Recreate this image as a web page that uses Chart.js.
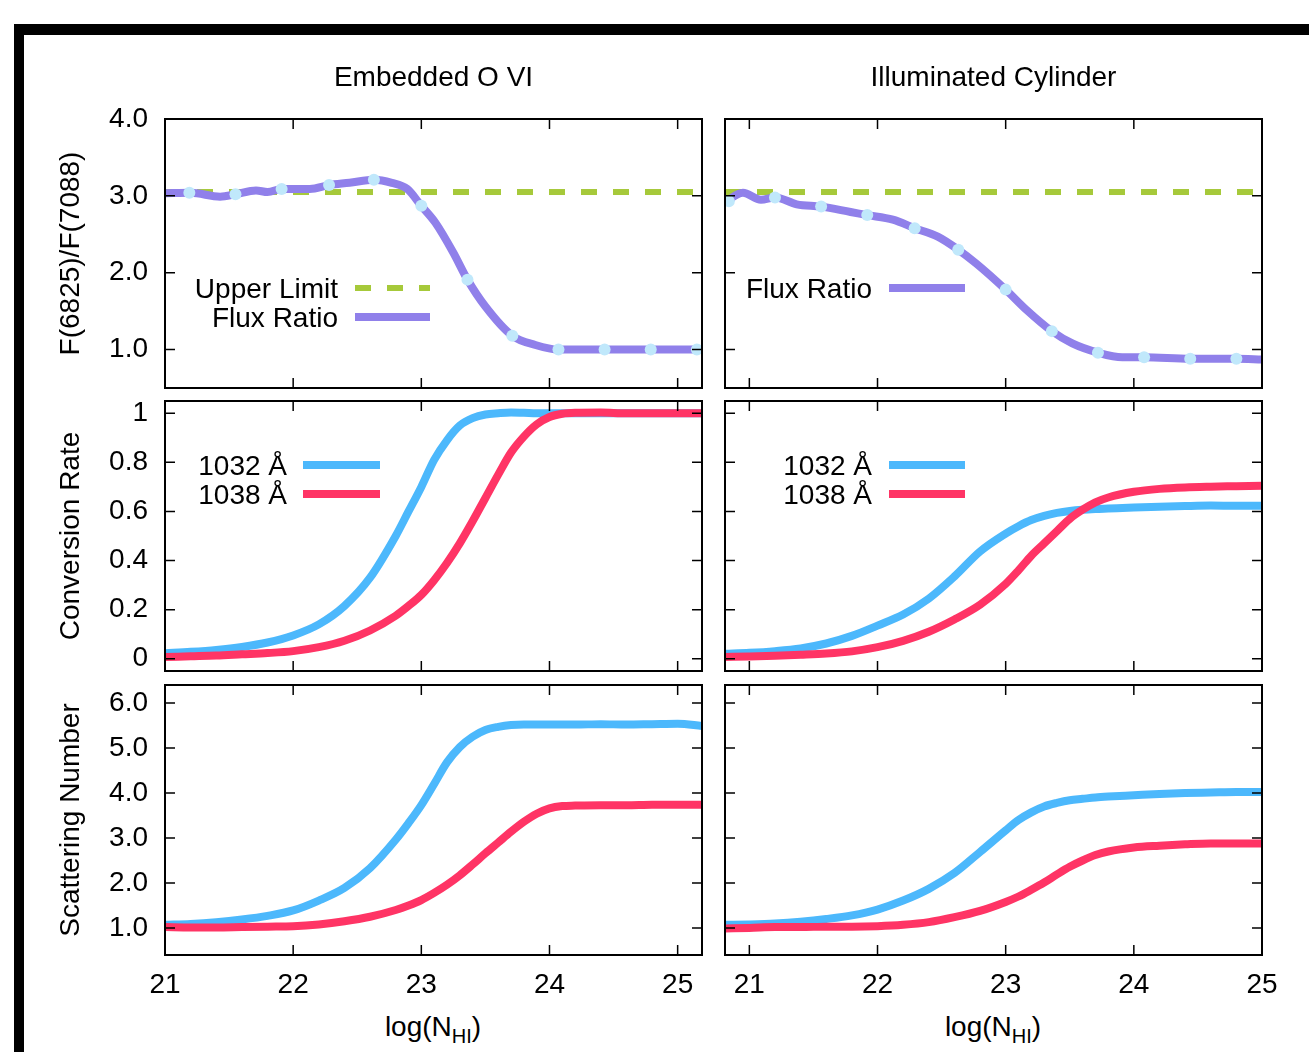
<!DOCTYPE html>
<html>
<head>
<meta charset="utf-8">
<script src="https://cdn.jsdelivr.net/npm/chart.js@4"></script>
<style>
  html, body { margin: 0; padding: 0; background: #fff; }
  body { width: 1309px; height: 1052px; position: relative; overflow: hidden; font-family: "Liberation Sans", Arial, sans-serif; }
  #frame { position: absolute; left: 14px; top: 24px; width: 1400px; height: 1100px; border-top: 11px solid #000; border-left: 10px solid #000; }
  canvas { position: absolute; }
  .xt { position: absolute; top: 1010px; width: 240px; text-align: center; font-size: 28px; line-height: 34px; color: #000; }
  .xt sub { font-size: 20px; vertical-align: -7px; line-height: 0; }
</style>
</head>
<body>
<div id="frame"></div>
<canvas id="tl" width="807" height="385" style="left:30px;top:43px"></canvas>
<canvas id="tr" width="597" height="385" style="left:695px;top:43px"></canvas>
<canvas id="ml" width="807" height="350" style="left:30px;top:361px"></canvas>
<canvas id="mr" width="597" height="350" style="left:695px;top:361px"></canvas>
<canvas id="bl" width="807" height="365" style="left:30px;top:645px"></canvas>
<canvas id="br" width="597" height="365" style="left:695px;top:645px"></canvas>
<div class="xt" style="left:313px">log(N<sub>HI</sub>)</div>
<div class="xt" style="left:873px">log(N<sub>HI</sub>)</div>
<script>
// tick labels
const xTicks = [21, 22, 23, 24, 25];
const fluxTicks = [1, 2, 3, 4];
const convTicks = [0, 0.2, 0.4, 0.6, 0.8, 1];
const scatTicks = [1, 2, 3, 4, 5, 6];

// top row: flux ratio
const upperLimit = 3.05;
const fluxEmbX = [21.0, 21.2, 21.43, 21.55, 21.71, 21.8, 21.91, 22.13, 22.28, 22.44, 22.63, 22.77, 22.89, 23.0, 23.11, 23.25, 23.36, 23.5, 23.71, 23.89, 24.07, 24.4, 24.8, 25.19];
const fluxEmbY = [3.035, 3.04, 2.99, 3.02, 3.07, 3.05, 3.09, 3.09, 3.14, 3.17, 3.21, 3.17, 3.09, 2.87, 2.65, 2.26, 1.91, 1.56, 1.18, 1.06, 1.0, 1.0, 1.0, 1.0];
const markEmbX = [21.19, 21.55, 21.91, 22.28, 22.63, 23.0, 23.36, 23.71, 24.07, 24.43, 24.79, 25.15];
const markEmbY = [3.04, 3.02, 3.09, 3.14, 3.21, 2.87, 1.91, 1.18, 1.0, 1.0, 1.0, 1.0];

const fluxCylX = [20.81, 20.95, 21.09, 21.2, 21.37, 21.56, 21.79, 21.92, 22.12, 22.29, 22.47, 22.63, 22.77, 23.0, 23.16, 23.36, 23.52, 23.72, 23.91, 24.08, 24.44, 24.8, 25.0];
const fluxCylY = [2.92, 3.04, 2.95, 2.98, 2.89, 2.86, 2.79, 2.75, 2.69, 2.58, 2.47, 2.30, 2.12, 1.78, 1.52, 1.24, 1.08, 0.96, 0.90, 0.90, 0.88, 0.88, 0.87];
const markCylX = [20.84, 21.2, 21.56, 21.92, 22.29, 22.63, 23.0, 23.36, 23.72, 24.08, 24.44, 24.8];
const markCylY = [2.93, 2.98, 2.86, 2.75, 2.58, 2.30, 1.78, 1.24, 0.96, 0.90, 0.88, 0.88];

// middle + bottom rows, embedded O VI
const embX = [21.0, 21.2, 21.4, 21.6, 21.8, 22.0, 22.2, 22.4, 22.6, 22.8, 22.9, 23.0, 23.1, 23.2, 23.3, 23.4, 23.5, 23.6, 23.7, 23.8, 23.9, 24.0, 24.1, 24.2, 24.4, 24.6, 24.8, 25.0, 25.19];
const convEmb1032 = [0.022, 0.028, 0.036, 0.048, 0.066, 0.095, 0.14, 0.215, 0.33, 0.50, 0.60, 0.70, 0.81, 0.89, 0.95, 0.98, 0.995, 1.0, 1.003, 1.002, 1.0, 1.0, 1.0, 1.0, 1.0, 1.0, 1.0, 1.0, 1.0];
const convEmb1038 = [0.007, 0.010, 0.013, 0.018, 0.023, 0.031, 0.047, 0.073, 0.115, 0.175, 0.215, 0.26, 0.32, 0.39, 0.47, 0.56, 0.655, 0.75, 0.84, 0.905, 0.955, 0.985, 0.998, 1.002, 1.003, 1.0, 1.0, 1.0, 1.0];
const scatEmb1032 = [1.07, 1.09, 1.13, 1.19, 1.27, 1.39, 1.61, 1.89, 2.33, 2.96, 3.33, 3.73, 4.20, 4.68, 5.02, 5.25, 5.40, 5.47, 5.51, 5.52, 5.52, 5.52, 5.52, 5.52, 5.53, 5.52, 5.53, 5.54, 5.49];
const scatEmb1038 = [1.02, 1.01, 1.01, 1.02, 1.03, 1.04, 1.08, 1.15, 1.25, 1.40, 1.50, 1.62, 1.78, 1.96, 2.17, 2.41, 2.66, 2.90, 3.14, 3.36, 3.54, 3.66, 3.71, 3.72, 3.73, 3.73, 3.74, 3.74, 3.74];

// middle + bottom rows, illuminated cylinder
const cylX = [20.81, 21.0, 21.2, 21.4, 21.6, 21.8, 22.0, 22.2, 22.4, 22.6, 22.8, 23.0, 23.1, 23.2, 23.3, 23.4, 23.5, 23.6, 23.7, 23.8, 24.0, 24.2, 24.4, 24.6, 24.8, 25.0];
const convCyl1032 = [0.02, 0.024, 0.031, 0.042, 0.062, 0.093, 0.135, 0.18, 0.245, 0.335, 0.437, 0.51, 0.54, 0.565, 0.582, 0.594, 0.602, 0.607, 0.61, 0.612, 0.616, 0.619, 0.622, 0.624, 0.623, 0.623];
const convCyl1038 = [0.007, 0.009, 0.012, 0.016, 0.021, 0.03, 0.047, 0.073, 0.11, 0.16, 0.22, 0.305, 0.36, 0.42, 0.47, 0.52, 0.57, 0.607, 0.637, 0.657, 0.68, 0.692, 0.698, 0.701, 0.703, 0.705];
const scatCyl1032 = [1.07, 1.08, 1.10, 1.14, 1.20, 1.28, 1.41, 1.61, 1.87, 2.22, 2.69, 3.17, 3.40, 3.57, 3.70, 3.78, 3.84, 3.87, 3.90, 3.92, 3.95, 3.98, 4.0, 4.01, 4.02, 4.02];
const scatCyl1038 = [0.99, 1.0, 1.02, 1.02, 1.03, 1.03, 1.04, 1.07, 1.13, 1.24, 1.38, 1.58, 1.70, 1.85, 2.01, 2.19, 2.36, 2.50, 2.62, 2.70, 2.79, 2.83, 2.86, 2.88, 2.88, 2.88];

const PURPLE = "#9080ea", DOT = "#c0e8fb", GREEN = "#a6c93a", BLUE = "#4cb8fc", RED = "#ff3465";

Chart.defaults.font.family = "'Liberation Sans', Arial, sans-serif";
Chart.defaults.font.size = 28;
Chart.defaults.font.lineHeight = 1.25;
Chart.defaults.color = "#000";

function pts(xs, ys) {
  return xs.map((x, i) => ({ x: x, y: ys[i] }));
}

// gnuplot style border with inward ticks on every side
const frameTicks = {
  id: "frameTicks",
  afterDatasetsDraw(chart) {
    const { ctx, chartArea: a, scales } = chart;
    ctx.save();
    ctx.strokeStyle = "#000";
    ctx.lineWidth = 1.5;
    ctx.beginPath();
    scales.x.ticks.forEach(t => {
      const px = scales.x.getPixelForValue(t.value);
      ctx.moveTo(px, a.bottom); ctx.lineTo(px, a.bottom - 10);
      ctx.moveTo(px, a.top); ctx.lineTo(px, a.top + 10);
    });
    scales.y.ticks.forEach(t => {
      const py = scales.y.getPixelForValue(t.value);
      ctx.moveTo(a.left, py); ctx.lineTo(a.left + 10, py);
      ctx.moveTo(a.right, py); ctx.lineTo(a.right - 10, py);
    });
    ctx.stroke();
    ctx.lineWidth = 2;
    ctx.strokeRect(a.left, a.top, a.right - a.left, a.bottom - a.top);
    ctx.restore();
  }
};

// key: text on the left, line sample on the right
const gnuLegend = {
  id: "gnuLegend",
  afterDatasetsDraw(chart, args, opts) {
    if (!opts.items) return;
    const { ctx, chartArea: a } = chart;
    ctx.save();
    ctx.font = "28px 'Liberation Sans', Arial, sans-serif";
    ctx.textAlign = "right";
    ctx.textBaseline = "middle";
    opts.items.forEach((it, i) => {
      const ds = chart.data.datasets[it.ds];
      const y = a.top + opts.top + i * 29;
      ctx.fillStyle = "#000";
      ctx.fillText(it.text, a.left + opts.textRight, y + 2);
      ctx.strokeStyle = ds.borderColor;
      ctx.lineWidth = ds.borderWidth;
      ctx.setLineDash(ds.borderDash || []);
      ctx.beginPath();
      ctx.moveTo(a.left + opts.lineFrom, y);
      ctx.lineTo(a.left + opts.lineTo, y);
      ctx.stroke();
    });
    ctx.restore();
  }
};

function panel(id, cfg) {
  const left = cfg.col === 0, top = cfg.row === 0, bottom = cfg.row === 2;
  const side = left ? 135 : 30;  // same width both sides, so the title centres on the plot
  return new Chart(document.getElementById(id), {
    type: "line",
    data: { datasets: cfg.datasets },
    options: {
      responsive: false,
      animation: false,
      events: [],
      layout: { padding: { left: 0, right: 0, top: top ? 0 : 40, bottom: bottom ? 0 : 40 } },
      datasets: { line: { clip: 0, pointRadius: 0, borderWidth: 8, cubicInterpolationMode: "monotone" } },
      plugins: {
        legend: { display: false },
        tooltip: { enabled: false },
        title: { display: top, text: cfg.title, color: "#000", font: { size: 28, weight: "normal" }, padding: { top: 18, bottom: 23 } },
        gnuLegend: cfg.legend || {}
      },
      scales: {
        x: {
          type: "linear",
          min: left ? 21 : 20.81,
          max: left ? 25.19 : 25,
          grid: { display: false, drawTicks: false },
          border: { display: false },
          afterBuildTicks: s => { s.ticks = xTicks.map(v => ({ value: v })); },
          ticks: { display: bottom, padding: 13, maxRotation: 0, minRotation: 0, autoSkip: false },
          afterFit: s => { s.height = bottom ? 55 : 0; }
        },
        y: {
          type: "linear",
          min: cfg.yMin,
          max: cfg.yMax,
          grid: { display: false, drawTicks: false },
          border: { display: false },
          afterBuildTicks: s => { s.ticks = cfg.ticks.map(v => ({ value: v })); },
          ticks: { display: left, padding: 17, autoSkip: false, callback: cfg.fmt },
          title: { display: left, text: cfg.yTitle, padding: { top: 23.5, bottom: 0 } },
          afterFit: s => { s.width = side; }
        },
        y2: {
          type: "linear",
          position: "right",
          min: cfg.yMin,
          max: cfg.yMax,
          grid: { display: false, drawTicks: false },
          border: { display: false },
          ticks: { display: false },
          afterFit: s => { s.width = side; }
        }
      }
    },
    plugins: [frameTicks, gnuLegend]
  });
}

const oneDec = v => v.toFixed(1);
const plain = v => String(Math.round(v * 10) / 10);

function fluxSets(xs, ys, mx, my, lim) {
  return [
    { label: "points", data: pts(mx, my), showLine: false, pointRadius: 6, pointBackgroundColor: DOT, pointBorderWidth: 0, order: 0 },
    { label: "Flux Ratio", data: pts(xs, ys), borderColor: PURPLE, borderWidth: 8, order: 1 },
    { label: "Upper Limit", data: pts(lim, lim.map(() => upperLimit)), borderColor: GREEN, borderWidth: 6, borderDash: [16, 16], cubicInterpolationMode: "default", tension: 0, order: 2 }
  ];
}

function pairSets(xs, a, b) {
  return [
    { label: "1032 Å", data: pts(xs, a), borderColor: BLUE, borderWidth: 8, order: 2 },
    { label: "1038 Å", data: pts(xs, b), borderColor: RED, borderWidth: 8, order: 1 }
  ];
}

panel("tl", {
  row: 0, col: 0, title: "Embedded O VI", yTitle: "F(6825)/F(7088)",
  yMin: 0.5, yMax: 4.0, ticks: fluxTicks, fmt: oneDec,
  datasets: fluxSets(fluxEmbX, fluxEmbY, markEmbX, markEmbY, [21, 25.19]),
  legend: { top: 169, textRight: 173, lineFrom: 190, lineTo: 265, items: [{ text: "Upper Limit", ds: 2 }, { text: "Flux Ratio", ds: 1 }] }
});
panel("tr", {
  row: 0, col: 1, title: "Illuminated Cylinder",
  yMin: 0.5, yMax: 4.0, ticks: fluxTicks, fmt: oneDec,
  datasets: fluxSets(fluxCylX, fluxCylY, markCylX, markCylY, [20.81, 25]),
  legend: { top: 169, textRight: 147, lineFrom: 164, lineTo: 240, items: [{ text: "Flux Ratio", ds: 1 }] }
});
panel("ml", {
  row: 1, col: 0, yTitle: "Conversion Rate",
  yMin: -0.05, yMax: 1.05, ticks: convTicks, fmt: plain,
  datasets: pairSets(embX, convEmb1032, convEmb1038),
  legend: { top: 64, textRight: 122, lineFrom: 138, lineTo: 215, items: [{ text: "1032 Å", ds: 0 }, { text: "1038 Å", ds: 1 }] }
});
panel("mr", {
  row: 1, col: 1,
  yMin: -0.05, yMax: 1.05, ticks: convTicks, fmt: plain,
  datasets: pairSets(cylX, convCyl1032, convCyl1038),
  legend: { top: 64, textRight: 147, lineFrom: 164, lineTo: 240, items: [{ text: "1032 Å", ds: 0 }, { text: "1038 Å", ds: 1 }] }
});
panel("bl", {
  row: 2, col: 0, yTitle: "Scattering Number",
  yMin: 0.4, yMax: 6.4, ticks: scatTicks, fmt: oneDec,
  datasets: pairSets(embX, scatEmb1032, scatEmb1038)
});
panel("br", {
  row: 2, col: 1,
  yMin: 0.4, yMax: 6.4, ticks: scatTicks, fmt: oneDec,
  datasets: pairSets(cylX, scatCyl1032, scatCyl1038)
});
</script>
</body>
</html>
